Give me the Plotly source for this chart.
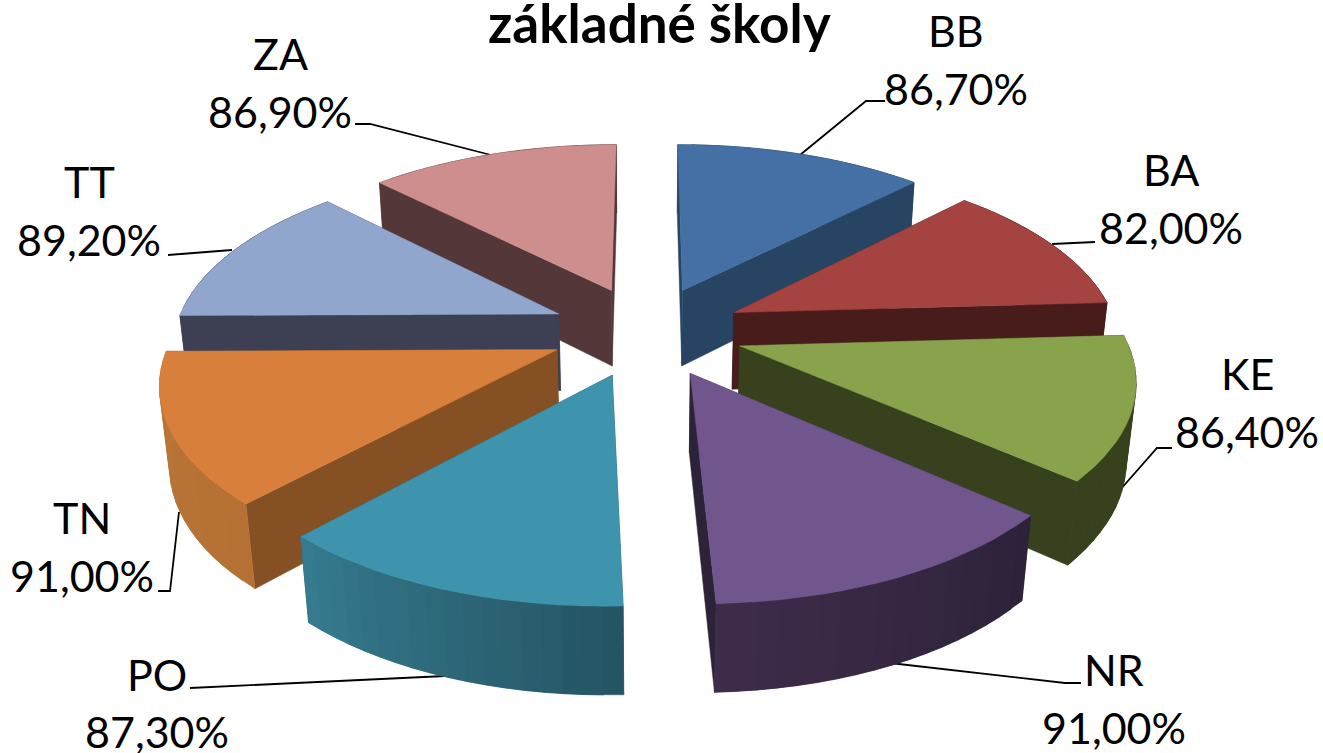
import math
import plotly.graph_objects as go

# Data
categories = ["BB", "BA", "KE", "NR", "PO", "TN", "TT", "ZA"]
values = [86.7, 82.0, 86.4, 91.0, 87.3, 91.0, 89.2, 86.9]
title_text = "základné školy"

# Styles: top face, radial wall, arc wall at slice start angle, arc wall at slice end angle
top_colors = ["#4570A5", "#A54341", "#88A34C", "#70568D", "#3F94AD", "#D8803B", "#91A6CD", "#CF8E8E"]
wall_colors = ["#274562", "#471C1A", "#38411D", "#2D2338", "#245561", "#855024", "#3C4052", "#543739"]
arc_start = ["#274562", "#471C1A", "#38411D", "#2C2238", "#245462", "#B57134", "#3C4052", "#543739"]
arc_end = ["#274562", "#471C1A", "#38411D", "#3F2C4B", "#367B90", "#BA7636", "#3C4052", "#543739"]

# label centre positions (x, y of name line, y of value line)
label_pos = {
    "BB": (956, 30, 88), "BA": (1171, 169, 227), "KE": (1247, 373, 431), "NR": (1114, 669, 727),
    "PO": (157, 674, 731), "TN": (82, 517, 575), "TT": (89, 181, 239), "ZA": (280, 53, 111),
}
leaders = {
    "BB": [(885, 101), (866, 101), (800, 155)],
    "BA": [(1095, 242), (1052, 244)],
    "KE": [(1172, 448), (1157, 448), (1120, 490)],
    "NR": [(1081, 683), (1065, 683), (890, 663)],
    "PO": [(190, 688), (445, 676)],
    "TN": [(158, 591), (170, 591), (179, 512)],
    "TT": [(168, 255), (232, 250)],
    "ZA": [(355, 124), (370, 124), (491, 155)],
}

# Projection of the tilted pie
CX, CY, S, V, H, K, M, EXPLODE = 647, 331, 384, 180, 79, 0.155, 0.02, 0.252


def project(x, y, z):
    w = 1 + K * y + M * z
    return CX + S * x / w, CY + (-V * y + H * z) / w


def mix(a, b, t):
    ca = [int(a[i:i + 2], 16) for i in (1, 3, 5)]
    cb = [int(b[i:i + 2], 16) for i in (1, 3, 5)]
    return "#" + "".join(f"{round(p + (q - p) * t):02x}" for p, q in zip(ca, cb))


fig = go.Figure()


def poly(points, color, name, width=0.5):
    pts = list(points) + [points[0]]
    fig.add_trace(go.Scatter(
        x=[p[0] for p in pts], y=[p[1] for p in pts], mode="lines", fill="toself",
        fillcolor=color, line=dict(color=color, width=width), hoverinfo="skip",
        showlegend=False, name=name,
    ))


# leader lines under the slices
for cat in categories:
    pts = leaders[cat]
    fig.add_trace(go.Scatter(
        x=[p[0] for p in pts], y=[p[1] for p in pts], mode="lines",
        line=dict(color="#000000", width=1.8), hoverinfo="skip", showlegend=False,
    ))

total = sum(values)
spans = {}
a = 0.0
for c, v in zip(categories, values):
    spans[c] = (a, a + v / total * 360)
    a += v / total * 360

N_ARC = 18
for cat in ["BB", "ZA", "BA", "TT", "KE", "TN", "NR", "PO"]:
    i = categories.index(cat)
    a0, a1 = spans[cat]
    mid = math.radians((a0 + a1) / 2)
    ox, oy = EXPLODE * math.sin(mid), EXPLODE * math.cos(mid)

    def rim(deg):
        r = math.radians(deg)
        return ox + math.sin(r), oy + math.cos(r)

    angles = [a0 + (a1 - a0) * t / N_ARC for t in range(N_ARC + 1)]

    def draw_radial():
        for deg in (a0, a1):
            p = rim(deg)
            poly([project(ox, oy, 0), project(*p, 0), project(*p, 1), project(ox, oy, 1)], wall_colors[i], cat)

    def draw_arc():
        # bands overlap the next one so no seams show between them
        for t in range(N_ARC):
            band = angles[t:min(t + 3, N_ARC + 1)]
            front = [project(*rim(d), 0) for d in band]
            back = [project(*rim(d), 1) for d in reversed(band)]
            poly(front + back, mix(arc_start[i], arc_end[i], (t + 0.5) / N_ARC), cat)

    # near slices show their arc in front of the radial walls, far slices the other way round
    if math.cos(mid) < 0:
        draw_radial()
        draw_arc()
    else:
        draw_arc()
        draw_radial()
    # top face
    poly([project(ox, oy, 0)] + [project(*rim(d), 0) for d in angles], top_colors[i], cat)

annotations = [dict(x=659, y=22, text=f"<b>{title_text}</b>", showarrow=False, xref="x", yref="y",
                    xanchor="center", yanchor="middle", font=dict(family="Lato", size=53, color="#000000"))]
for cat, v in zip(categories, values):
    x, y1, y2 = label_pos[cat]
    annotations.append(dict(x=x, y=y1, text=cat, showarrow=False, xref="x", yref="y", xanchor="center",
                            yanchor="middle", font=dict(family="Lato", size=43, color="#000000")))
    annotations.append(dict(x=x, y=y2, text=f"{v:.2f}".replace(".", ",") + "%", showarrow=False, xref="x",
                            yref="y", xanchor="center", yanchor="middle",
                            font=dict(family="Lato", size=43, color="#000000")))

fig.update_layout(
    width=1323, height=753, margin=dict(l=0, r=0, t=0, b=0), paper_bgcolor="#ffffff", plot_bgcolor="#ffffff",
    xaxis=dict(range=[0, 1323], visible=False, fixedrange=True),
    yaxis=dict(range=[753, 0], visible=False, fixedrange=True),
    annotations=annotations, showlegend=False,
)
fig.write_html("out.html", config={"displayModeBar": False},
               post_script="document.body.style.margin='0';document.body.style.overflow='hidden';")
